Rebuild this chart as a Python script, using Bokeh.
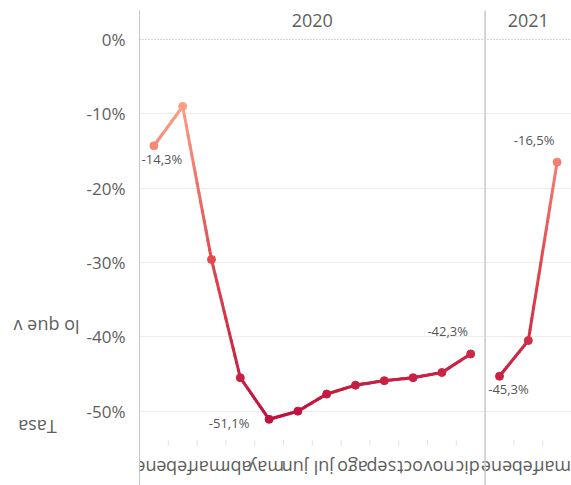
import math
import numpy as np
from bokeh.plotting import figure
from bokeh.layouts import row
from bokeh.models import Range1d, FixedTicker, ColumnDataSource, Span, LinearColorMapper
from bokeh.transform import transform
from bokeh.core.properties import value
from bokeh.embed import file_html
from bokeh.resources import INLINE

# Monthly rate, 2020 and first quarter of 2021
years = ["2020"] * 12 + ["2021"] * 3
months = ["ene", "feb", "mar", "abr", "may", "jun", "jul", "ago", "sep", "oct", "nov", "dic",
          "ene", "feb", "mar"]
rate = [-14.3, -9.0, -29.6, -45.5, -51.1, -50.0, -47.7, -46.5, -45.9, -45.5, -44.8, -42.3,
        -45.3, -40.5, -16.5]
y_ticks = [0, -10, -20, -30, -40, -50]
axis_title = ["lo que v", "Tasa"]

# points that carry a value label -> (dx, dy) pixel offset of the label
label_offsets = {0: (8, 13), 4: (-40, 4), 11: (-23, -23), 12: (9, 13), 14: (-23, -22)}

FONT = "Open Sans"
GREY = "#605E5C"
LABEL_GREY = "#555555"
TITLE_W = 80

n = len(months)
xs = list(range(n))

# colour ramp: salmon for the highest values, crimson for the lowest
stops = [(0.0, "#C0123E"), (0.5, "#E3474F"), (1.0, "#FD9F86")]


def _rgb(h):
    return [int(h[i:i + 2], 16) for i in (1, 3, 5)]


palette = []
for t in np.linspace(0, 1, 256):
    for (t0, c0), (t1, c1) in zip(stops[:-1], stops[1:]):
        if t0 <= t <= t1:
            f = (t - t0) / (t1 - t0)
            a, b = _rgb(c0), _rgb(c1)
            palette.append("#%02X%02X%02X" % tuple(round(a[k] + (b[k] - a[k]) * f) for k in range(3)))
            break
mapper = LinearColorMapper(palette=palette, low=min(rate), high=max(rate))

# left strip holding the axis title, turned upside down
side = figure(width=TITLE_W, height=485, output_backend="svg", toolbar_location=None,
              x_range=Range1d(0, TITLE_W), y_range=Range1d(485, 0),
              x_axis_location=None, y_axis_location=None, min_border=0)
side.outline_line_color = None
side.grid.visible = False
side.text(x=[46, 37], y=[323, 425], text=axis_title, angle=math.pi,
          text_font=value(FONT), text_font_size="18px", text_color=GREY,
          text_align="center", text_baseline="middle")

p = figure(width=571 - TITLE_W, height=485, output_backend="svg", toolbar_location=None,
           x_range=Range1d(-0.5, n - 0.5), y_range=Range1d(-60.0, 3.9),
           min_border_left=139 - TITLE_W, min_border_right=0, min_border_top=10,
           min_border_bottom=0, x_axis_location=None)
p.outline_line_color = None
p.background_fill_color = "white"
p.border_fill_color = "white"

# y axis
p.yaxis.ticker = FixedTicker(ticks=y_ticks)
p.yaxis.major_label_overrides = {t: f"{t}%" for t in y_ticks}
p.yaxis.major_label_text_font = FONT
p.yaxis.major_label_text_font_size = "17px"
p.yaxis.major_label_text_color = GREY
p.yaxis.major_tick_line_color = None
p.yaxis.minor_tick_line_color = None
p.yaxis.axis_line_color = "#C8C8C8"
p.yaxis.major_label_standoff = 8

p.xgrid.visible = False
p.ygrid.ticker = FixedTicker(ticks=[t for t in y_ticks if t != 0])
p.ygrid.grid_line_color = "#EDEDED"

p.add_layout(Span(location=0, dimension="width", line_color="#A8A8A8",
                  line_dash="1 2", line_width=1))

# year blocks: divider and header
year_names = sorted(set(years))
bounds = [i - 0.5 for i in range(1, n) if years[i] != years[i - 1]]
for b in bounds:
    p.add_layout(Span(location=b, dimension="height", line_color="#C8C8C8", line_width=1.5))
year_x = [float(np.mean([i for i in xs if years[i] == y])) for y in year_names]
p.text(x=year_x, y=[2.5] * len(year_names), text=year_names,
       text_font=value(FONT), text_font_size="18px", text_color=GREY,
       text_align="center", text_baseline="middle")

# small ticks between month categories
tick_x = [i + 0.5 for i in range(n - 1) if (i + 0.5) not in bounds]
p.segment(x0=tick_x, y0=[-53.9] * len(tick_x), x1=tick_x, y1=[-54.7] * len(tick_x),
          line_color="#E2E2E2", line_width=1)

# month labels, turned upside down
p.text(x=xs, y=[-57.6] * n, text=months, angle=math.pi, x_offset=-3,
       text_font=value(FONT), text_font_size="18px", text_color=GREY,
       text_align="center", text_baseline="middle")

# line, drawn in short pieces so its colour follows the value
seg = dict(x0=[], y0=[], x1=[], y1=[], v=[])
pieces = 16
for i in range(n - 1):
    if years[i] != years[i + 1]:
        continue
    for k in range(pieces):
        f0, f1 = k / pieces, (k + 1) / pieces
        ya = rate[i] + (rate[i + 1] - rate[i]) * f0
        yb = rate[i] + (rate[i + 1] - rate[i]) * f1
        seg["x0"].append(xs[i] + f0)
        seg["x1"].append(xs[i] + f1)
        seg["y0"].append(ya)
        seg["y1"].append(yb)
        seg["v"].append((ya + yb) / 2)
p.segment(x0="x0", y0="y0", x1="x1", y1="y1", source=ColumnDataSource(seg),
          line_color=transform("v", mapper), line_width=3, line_cap="round")

pts = ColumnDataSource(dict(x=xs, rate=rate))
p.scatter(x="x", y="rate", source=pts, size=8,
          fill_color=transform("rate", mapper), line_color=transform("rate", mapper))

# value labels
idx = sorted(label_offsets)
lab = ColumnDataSource(dict(
    x=[xs[i] for i in idx], y=[rate[i] for i in idx],
    t=[f"{rate[i]:.1f}%".replace(".", ",") for i in idx],
    dx=[label_offsets[i][0] for i in idx], dy=[label_offsets[i][1] for i in idx]))
p.text(x="x", y="y", text="t", x_offset="dx", y_offset="dy", source=lab,
       text_font=value(FONT), text_font_size="13px", text_color=LABEL_GREY,
       text_align="center", text_baseline="middle")

open("out.html", "w").write(file_html(row(side, p), INLINE))
